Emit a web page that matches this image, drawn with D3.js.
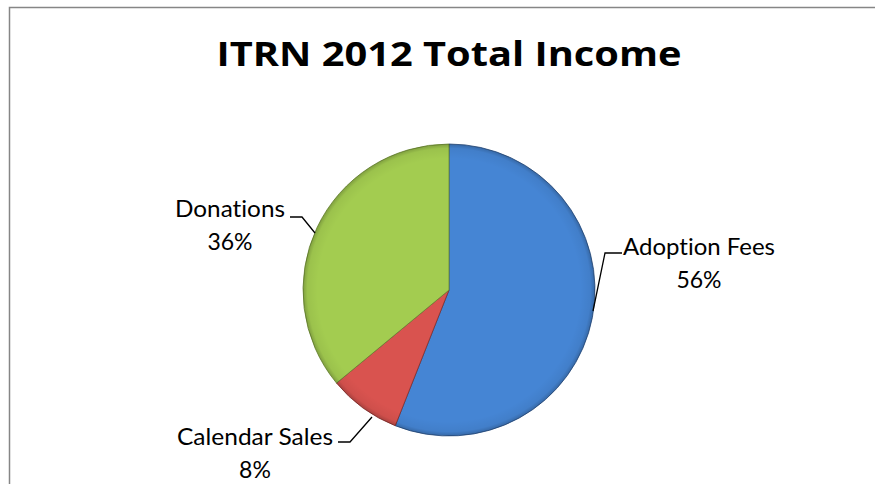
<!DOCTYPE html>
<html>
<head>
<meta charset="utf-8">
<script src="https://cdn.jsdelivr.net/npm/d3@7"></script>
<style>
	body { margin: 0; background: #fff; }
	text { font-family: Lato, "Open Sans", sans-serif; fill: #000; font-variant-ligatures: none; }
</style>
</head>
<body>
<svg id="chart" width="875" height="484"></svg>
<script>
var categories = ["Adoption Fees", "Calendar Sales", "Donations"];
var values = [56, 8, 36];
var colorsTop = ["#4585d4", "#d9534f", "#a3cc50"];
var colorsBottom = ["#3464a6", "#b03a36", "#8db243"];

// label position (text centre), width of first line and leader elbow
var labelPos = [[699, 255], [255, 445], [230, 217]];
var labelWidth = [152, 156, 110];
var elbows = [[[622, 253], [605, 253], [593, 311]],
	[[338, 442], [350, 442], [372, 417]],
	[[290, 217], [302, 217], [315, 233]]];

var svg = d3.select("#chart");
var cx = 449, cy = 290, r = 146;

// chart border (top and left only visible)
svg.append("path")
	.attr("d", "M9.5,484 L9.5,7.5 L875,7.5")
	.attr("fill", "none")
	.attr("stroke", "#868686")
	.attr("stroke-width", 1.5);

svg.append("text")
	.attr("x", 449)
	.attr("y", 66)
	.attr("text-anchor", "middle")
	.attr("textLength", 465)
	.attr("lengthAdjust", "spacingAndGlyphs")
	.style("font-family", "'Open Sans', sans-serif")
	.style("font-weight", "bold")
	.style("font-size", "34px")
	.text("ITRN 2012 Total Income");

var defs = svg.append("defs");
categories.forEach(function(c, i) {
	var g = defs.append("linearGradient")
		.attr("id", "grad" + i)
		.attr("gradientUnits", "userSpaceOnUse")
		.attr("x1", 0).attr("y1", cy - r)
		.attr("x2", 0).attr("y2", cy + r);
	g.append("stop").attr("offset", "0%").attr("stop-color", colorsTop[i]);
	g.append("stop").attr("offset", "100%").attr("stop-color", colorsBottom[i]);
});

var rim = defs.append("radialGradient")
	.attr("id", "rim")
	.attr("gradientUnits", "userSpaceOnUse")
	.attr("cx", cx).attr("cy", cy).attr("r", r);
rim.append("stop").attr("offset", "0.9").attr("stop-color", "#000").attr("stop-opacity", 0);
rim.append("stop").attr("offset", "0.97").attr("stop-color", "#000").attr("stop-opacity", 0.05);
rim.append("stop").attr("offset", "1").attr("stop-color", "#000").attr("stop-opacity", 0.22);

var pie = d3.pie().sort(null);
var arc = d3.arc().innerRadius(0).outerRadius(r);

var g = svg.append("g").attr("transform", "translate(" + cx + "," + cy + ")");
g.selectAll("path.slice")
	.data(pie(values))
	.enter()
	.append("path")
	.attr("class", "slice")
	.attr("d", arc)
	.attr("fill", function(d, i) { return "url(#grad" + i + ")"; })
	.attr("stroke", function(d, i) { return d3.color(colorsBottom[i]).darker(0.8); })
	.attr("stroke-width", 0.8);

svg.append("circle")
	.attr("cx", cx).attr("cy", cy).attr("r", r)
	.attr("fill", "url(#rim)");

// leader lines
var line = d3.line();
svg.selectAll("path.leader")
	.data(elbows)
	.enter()
	.append("path")
	.attr("class", "leader")
	.attr("d", line)
	.attr("fill", "none")
	.attr("stroke", "#000")
	.attr("stroke-width", 1.3);

// labels
categories.forEach(function(c, i) {
	svg.append("text")
		.attr("x", labelPos[i][0])
		.attr("y", labelPos[i][1])
		.attr("text-anchor", "middle")
		.attr("textLength", labelWidth[i])
		.attr("lengthAdjust", "spacingAndGlyphs")
		.style("font-size", "23px")
		.text(c);
	svg.append("text")
		.attr("x", labelPos[i][0])
		.attr("y", labelPos[i][1] + 33)
		.attr("text-anchor", "middle")
		.style("font-size", "23px")
		.text(values[i] + "%");
});
</script>
</body>
</html>
